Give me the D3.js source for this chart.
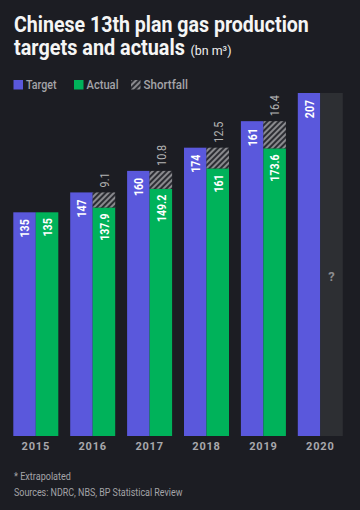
<!DOCTYPE html>
<html>
<head>
<meta charset="utf-8">
<script src="https://cdn.jsdelivr.net/npm/d3@7"></script>
<style>
  html, body { margin: 0; padding: 0; background: #1c1d23; }
  svg { display: block; }
  text { font-family: Roboto, "Noto Sans", sans-serif; }
</style>
</head>
<body>
<div id="chart"></div>
<script>
const years = ["2015", "2016", "2017", "2018", "2019", "2020"];
const target = [135, 147, 160, 174, 190, 207];
const targetLabels = ["135", "147", "160", "174", "161", "207"];
const actual = [135, 137.9, 149.2, 161.5, 173.6, null];
const actualLabels = ["135", "137.9", "149.2", "161", "173.6", ""];
const shortfall = [0, 9.1, 10.8, 12.5, 16.4, null];
const shortfallLabels = ["", "9.1", "10.8", "12.5", "16.4", ""];
const extrapolated = [null, null, null, null, null, 207];
const legendItems = ["Target", "Actual", "Shortfall"];

const W = 360, H = 510;
const C = { bg: "#1c1d23", target: "#5a58dc", actual: "#00b25a", extra: "#2d2f33",
            hatchLight: "#8a8a8e", hatchDark: "#2c2d33", label: "#b4b4b4", grey: "#a4a4a8" };

const svg = d3.select("#chart").append("svg").attr("width", W).attr("height", H);
svg.append("rect").attr("width", W).attr("height", H).attr("fill", C.bg);

const defs = svg.append("defs");
const pat = defs.append("pattern").attr("id", "hatch").attr("patternUnits", "userSpaceOnUse")
  .attr("width", 4).attr("height", 4).attr("patternTransform", "rotate(45)");
pat.append("rect").attr("width", 4).attr("height", 4).attr("fill", C.hatchDark);
pat.append("rect").attr("width", 2).attr("height", 4).attr("fill", C.hatchLight);

// Place a text at (x,y) squeezed horizontally to a given width
function placeFit(sel, x, y, len) {
  const n = sel.node().getComputedTextLength();
  const k = n > 0 ? len / n : 1;
  sel.attr("x", 0).attr("y", 0).attr("transform", `translate(${x},${y}) scale(${k},1)`);
}
function condense(sel, k) {
  sel.each(function () {
    const n = this.getComputedTextLength();
    if (n > 0) d3.select(this).attr("textLength", n * k).attr("lengthAdjust", "spacingAndGlyphs");
  });
}

// Title
svg.append("text").attr("fill", "#f5f5f5").attr("font-size", 22).attr("font-weight", 700)
  .text("Chinese 13th plan gas production").call(placeFit, 14, 32, 295);
svg.append("text").attr("fill", "#f5f5f5").attr("font-size", 22).attr("font-weight", 700)
  .text("targets and actuals").call(placeFit, 14, 55, 171);
svg.append("text").attr("fill", "#f0f0f0").attr("font-size", 13).attr("font-weight", 400)
  .text("(bn m³)").call(placeFit, 190.5, 55, 41);

// Legend
const legX = [13.5, 74, 131];
const legTextLen = [30.6, 32, 44.4];
const legFill = [C.target, C.actual, "url(#hatch)"];
legendItems.forEach((name, i) => {
  svg.append("rect").attr("x", legX[i]).attr("y", 80).attr("width", 9.5).attr("height", 9.5)
    .attr("fill", legFill[i]);
  svg.append("text").attr("fill", C.grey).attr("font-size", 12).attr("font-weight", 500)
    .text(name).call(placeFit, legX[i] + 12.5, 89.3, legTextLen[i]);
});

// Scales
const x = d3.scaleBand().domain(years).range([13.3, 342.8]).paddingInner(0.209).paddingOuter(0);
const y = d3.scaleLinear().domain([0, 207]).range([436, 93]);
const bw = x.bandwidth() / 2;

const g = svg.append("g");
const rows = years.map((yr, i) => ({ yr, t: target[i], tl: targetLabels[i], a: actual[i], al: actualLabels[i],
  s: shortfall[i], sl: shortfallLabels[i], e: extrapolated[i] }));

// Target bars
g.selectAll(".t").data(rows).join("rect")
  .attr("x", d => x(d.yr)).attr("width", bw)
  .attr("y", d => y(d.t)).attr("height", d => y(0) - y(d.t)).attr("fill", C.target);

// Actual bars
g.selectAll(".a").data(rows.filter(d => d.a != null)).join("rect")
  .attr("x", d => x(d.yr) + bw).attr("width", bw)
  .attr("y", d => y(d.a)).attr("height", d => y(0) - y(d.a)).attr("fill", C.actual);

// Shortfall hatch
g.selectAll(".s").data(rows.filter(d => d.s)).join("rect")
  .attr("x", d => x(d.yr) + bw).attr("width", bw)
  .attr("y", d => y(d.a + d.s)).attr("height", d => y(d.a) - y(d.a + d.s)).attr("fill", "url(#hatch)");

// Extrapolated bar
g.selectAll(".e").data(rows.filter(d => d.e != null)).join("rect")
  .attr("x", d => x(d.yr) + bw).attr("width", bw)
  .attr("y", d => y(d.e)).attr("height", d => y(0) - y(d.e)).attr("fill", C.extra);
g.selectAll(".q").data(rows.filter(d => d.e != null)).join("text")
  .attr("x", d => x(d.yr) + bw * 1.5).attr("y", d => y(d.e * 0.465))
  .attr("text-anchor", "middle").attr("dy", "0.35em")
  .attr("fill", "#8c8c90").attr("font-size", 13).attr("font-weight", 700).text("?");

// Rotated labels
function rotLabel(sel, cx, yTop, anchor, color, weight) {
  sel.attr("transform", d => `translate(${cx(d)},${yTop(d)}) rotate(-90)`)
    .attr("text-anchor", anchor).attr("dy", "0.36em")
    .attr("fill", color).attr("font-size", 12).attr("font-weight", weight);
}
g.selectAll(".tl").data(rows).join("text")
  .call(rotLabel, d => x(d.yr) + bw / 2 + 0.5, d => y(d.t) + 7, "end", "#ffffff", 700)
  .text(d => d.tl).call(condense, 0.88);
g.selectAll(".al").data(rows.filter(d => d.al)).join("text")
  .call(rotLabel, d => x(d.yr) + bw * 1.5 + 0.5, d => y(d.a) + 6, "end", "#ffffff", 700)
  .text(d => d.al).call(condense, 0.88);
g.selectAll(".sl").data(rows.filter(d => d.sl)).join("text")
  .call(rotLabel, d => x(d.yr) + bw * 1.5 + 0.5, d => y(d.a + d.s) - 5, "start", C.label, 400)
  .text(d => d.sl).call(condense, 0.9);

// X axis labels
const xAxis = d3.axisBottom(x).tickSize(0).tickPadding(6);
const ax = svg.append("g").attr("transform", `translate(0,${y(0)})`).call(xAxis);
ax.select(".domain").remove();
ax.selectAll("text").attr("fill", "#a8a8ac").attr("font-size", 11).attr("font-weight", 700)
  .attr("font-family", "Roboto, sans-serif").attr("letter-spacing", "0.8px");

// Footer
svg.append("text").attr("fill", C.grey).attr("font-size", 11)
  .text("* Extrapolated").call(placeFit, 14, 479.5, 57);
svg.append("text").attr("fill", C.grey).attr("font-size", 11)
  .text("Sources: NDRC, NBS, BP Statistical Review").call(placeFit, 14, 495.5, 168.7);
</script>
</body>
</html>
